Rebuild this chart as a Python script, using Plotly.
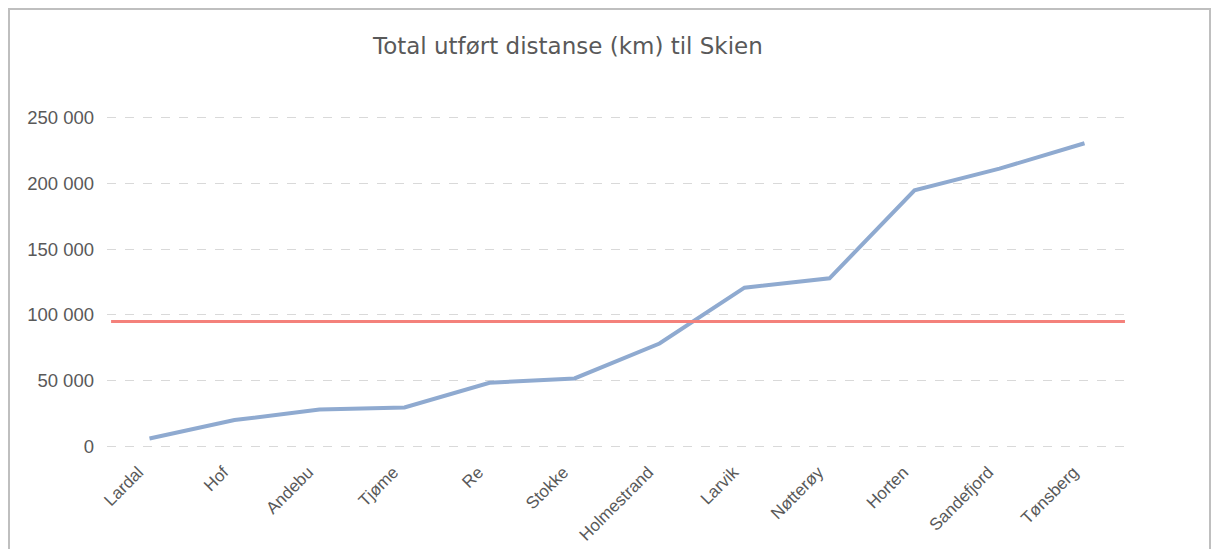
import plotly.graph_objects as go

categories = ["Lardal", "Hof", "Andebu", "Tjøme", "Re", "Stokke", "Holmestrand",
              "Larvik", "Nøtterøy", "Horten", "Sandefjord", "Tønsberg"]
distance_km = [6200, 20200, 28300, 29800, 48500, 51800, 78300,
               120700, 127800, 194500, 211000, 230300]
benchmark_km = 95000
y_ticks = [0, 50000, 100000, 150000, 200000, 250000]

x_idx = list(range(len(categories)))
label_shift = 0.13  # tick labels sit slightly left of the data points, as in Excel

OFF = 8  # page body margin
PAD = 2500  # y padding so the 0 and 250 000 gridlines are drawn
scale = 330 / 250000  # px per km
W, H = 1219 - 2 * OFF, 549 - OFF
L = 107 - OFF
R = W - (1127 - OFF)
T = int(round(117 - OFF - PAD * scale))
B = H - int(round(447 - OFF + PAD * scale))
pw, ph = W - L - R, H - T - B

def px_x(p):
    return (p - OFF - L) / pw

def px_y(p):
    return (H - B - (p - OFF)) / ph

fig = go.Figure()
fig.add_trace(go.Scatter(
    x=x_idx, y=distance_km, mode="lines",
    line=dict(color="#8FAAD0", width=4),
    text=categories, hovertemplate="%{text}: %{y}<extra></extra>",
    showlegend=False))

fig.update_layout(
    width=W, height=H,
    margin=dict(l=L, r=R, t=T, b=B, autoexpand=False),
    paper_bgcolor="white", plot_bgcolor="white",
    separators=", ",
    font=dict(family="Liberation Sans, Arial, sans-serif", color="#595959", size=16),
    xaxis=dict(showgrid=False, showline=False, zeroline=False, ticks="",
               tickmode="array", tickvals=[i - label_shift for i in x_idx],
               ticktext=categories,
               tickangle=-45, tickfont=dict(size=17, color="#595959"),
               ticklabelstandoff=8,
               range=[-0.5, len(categories) - 0.5]),
    yaxis=dict(range=[-PAD, 250000 + PAD], tickvals=y_ticks, tickformat=",d",
               showgrid=True, gridcolor="#D9D9D9", griddash="dash", gridwidth=1,
               zeroline=False, showline=False, ticks="", ticklabelstandoff=12,
               tickfont=dict(size=18.5, color="#595959")),
    shapes=[dict(type="rect", xref="paper", yref="paper",
                 x0=px_x(9), x1=px_x(OFF + W - 1), y0=px_y(570), y1=px_y(9),
                 line=dict(color="#BFBFBF", width=2), fillcolor="rgba(0,0,0,0)",
                 layer="below")],
    annotations=[dict(text="Total utført distanse (km) til Skien",
                      xref="paper", yref="paper", x=px_x(567), y=px_y(46),
                      xanchor="center", yanchor="middle", showarrow=False,
                      font=dict(family="DejaVu Sans, Verdana, sans-serif",
                                size=23, color="#595959"))],
)

fig.add_hline(y=benchmark_km, line=dict(color="#F4817B", width=3),
              x0=0.004, x1=0.998, layer="above")

fig.write_html("out.html")
